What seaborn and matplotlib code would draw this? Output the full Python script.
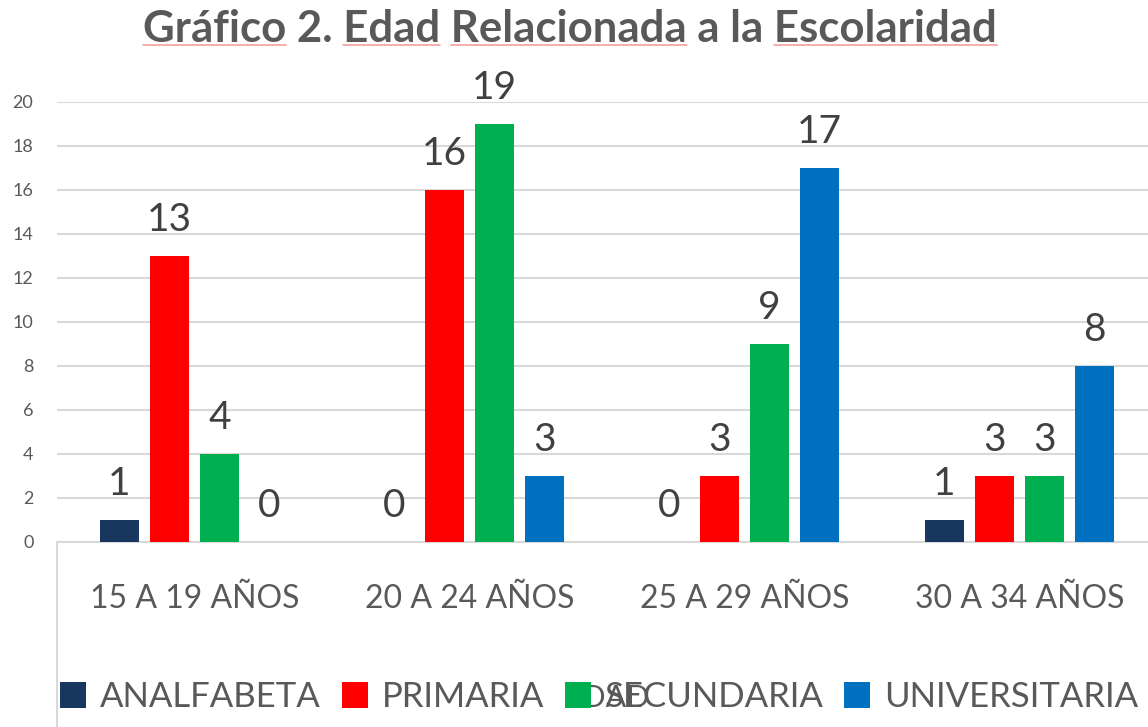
import pandas as pd
import matplotlib.pyplot as plt
import seaborn as sns
from matplotlib.patches import Patch
from matplotlib.lines import Line2D

# Data
edades = ['15 A 19 AÑOS', '20 A 24 AÑOS', '25 A 29 AÑOS', '30 A 34 AÑOS']
niveles = ['ANALFABETA', 'PRIMARIA', 'SECUNDARIA', 'UNIVERSITARIA']
analfabeta = [1, 0, 0, 1]
primaria = [13, 16, 3, 3]
secundaria = [4, 19, 9, 3]
universitaria = [0, 3, 17, 8]
colores = ['#17375E', '#FF0000', '#00B050', '#0070C0']

titulo = 'Gráfico 2. Edad Relacionada a la Escolaridad'
# words flagged by the spell checker in the original (red underline)
subrayadas = ['Gráfico', 'Edad', 'Relacionada', 'Escolaridad']

series = dict(zip(niveles, [analfabeta, primaria, secundaria, universitaria]))
rows = []
for nivel, vals in series.items():
    for edad, v in zip(edades, vals):
        rows.append({'edad': edad, 'nivel': nivel, 'n': v})
df = pd.DataFrame(rows)

sns.set_style('white')
plt.rcParams['font.family'] = ['Lato', 'DejaVu Sans']

gris = '#595959'
linea = '#D9D9D9'
W, H = 1148, 727

fig = plt.figure(figsize=(W / 100, H / 100), dpi=100)
ax = fig.add_axes([57 / W, 1 - 542 / H, 1100 / W, 440 / H])

sns.barplot(data=df, x='edad', y='n', hue='nivel', hue_order=niveles,
            palette=colores, width=0.727, gap=0.228, saturation=1,
            edgecolor='none', ax=ax, legend=False, zorder=3)

for cont in ax.containers:
    ax.bar_label(cont, fmt='%d', padding=13, fontsize=28, color='#404040')

ax.set_ylim(0, 20)
ax.set_yticks(range(0, 21, 2))
ax.set_xlim(-0.5, 3.5)
ax.grid(axis='y', color=linea, linewidth=1.5, zorder=0)
ax.set_axisbelow(True)
for s in ['top', 'right', 'left']:
    ax.spines[s].set_visible(False)
ax.spines['bottom'].set_color(linea)
ax.spines['bottom'].set_linewidth(1.5)
ax.tick_params(axis='y', length=0, pad=17, labelsize=13, labelcolor=gris)
ax.tick_params(axis='x', length=0, pad=30, labelsize=23, labelcolor=gris)
ax.set_ylabel('')
ax.set_xlabel('EDAD', fontsize=22, color=gris)
ax.xaxis.set_label_coords(0.5, (542 - 698) / 440)
ax.xaxis.label.set_va('center')

# left edge line of the category axis area
fig.add_artist(Line2D([57 / W, 57 / W], [0, 1 - 542 / H],
                      color=linea, linewidth=1.5))

tit = fig.text(0.4965, 0.960, titulo, ha='center', va='center',
               fontsize=31.5, fontweight='bold', color=gris)

# spell-check style underline under some title words
fig.canvas.draw()
r = fig.canvas.get_renderer()
bb = tit.get_window_extent(r)
y_line = 1 - 45 / H
for palabra in subrayadas:
    i = titulo.index(palabra)
    pre = fig.text(0, 0, titulo[:i], fontsize=31.5, fontweight='bold')
    wrd = fig.text(0, 0, titulo[:i + len(palabra)], fontsize=31.5, fontweight='bold')
    x0 = bb.x0 + (pre.get_window_extent(r).width if i > 0 else 0)
    x1 = bb.x0 + wrd.get_window_extent(r).width
    pre.remove()
    wrd.remove()
    fig.add_artist(Line2D([x0 / W, x1 / W], [y_line, y_line],
                          color='#F2A0A0', linewidth=1.2))

handles = [Patch(facecolor=c, edgecolor='none') for c in colores]
fig.legend(handles, niveles, loc='center', bbox_to_anchor=(0.522, 1 - 697 / H),
           ncol=4, frameon=False, fontsize=25, labelcolor=gris,
           handlelength=0.75, handleheight=0.75, handletextpad=0.4,
           columnspacing=0.6, borderpad=0)

plt.savefig('out.png', dpi=100)
